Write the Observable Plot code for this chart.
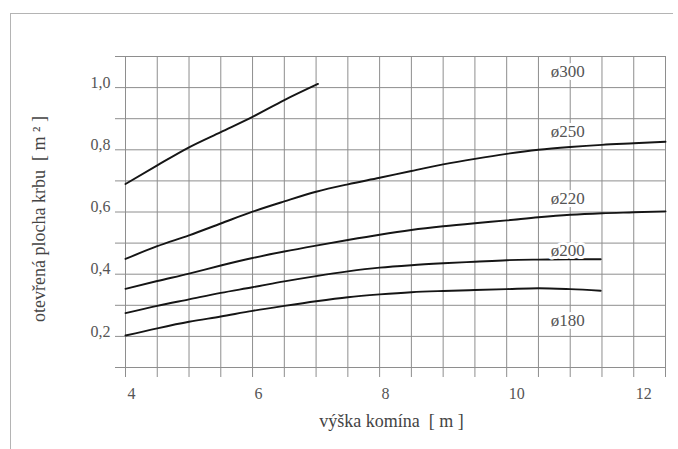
<!DOCTYPE html>
<html>
<head>
<meta charset="utf-8">
<script src="https://cdn.jsdelivr.net/npm/d3@7"></script>
<script src="https://cdn.jsdelivr.net/npm/@observablehq/plot@0.6"></script>
<style>
  html, body { margin: 0; padding: 0; background: #fff; font-family: "Liberation Serif", "Times New Roman", serif; }
  #wrap { position: relative; width: 678px; height: 449px; overflow: hidden; }
  #frame { position: absolute; left: 10px; top: 13px; width: 662px; height: 440px;
           border-top: 1px solid #b4b4b4; border-left: 1px solid #b4b4b4; pointer-events: none; }
</style>
</head>
<body>
<div id="wrap"><div id="frame"></div></div>
<script>
// ---- data ----
const seriesNames = ["ø300", "ø250", "ø220", "ø200", "ø180"];

const height300 = [4, 4.5, 5, 5.5, 6, 6.5, 7.03];
const area300   = [0.69, 0.75, 0.808, 0.857, 0.906, 0.96, 1.012];

const height250 = [4, 4.5, 5, 5.5, 6, 6.5, 7, 7.5, 8, 8.5, 9, 9.5, 10, 10.5, 11, 11.5, 12, 12.5];
const area250   = [0.449, 0.49, 0.525, 0.563, 0.601, 0.634, 0.665, 0.689, 0.71, 0.732, 0.753, 0.771, 0.787, 0.8, 0.809, 0.816, 0.821, 0.826];

const height220 = [4, 4.5, 5, 5.5, 6, 6.5, 7, 7.5, 8, 8.5, 9, 9.5, 10, 10.5, 11, 11.5, 12, 12.5];
const area220   = [0.353, 0.378, 0.402, 0.428, 0.452, 0.473, 0.492, 0.51, 0.527, 0.542, 0.554, 0.564, 0.573, 0.583, 0.591, 0.596, 0.599, 0.602];

const height200 = [4, 4.5, 5, 5.5, 6, 6.5, 7, 7.5, 8, 8.5, 9, 9.5, 10, 10.5, 11, 11.48];
const area200   = [0.275, 0.298, 0.319, 0.34, 0.358, 0.377, 0.394, 0.409, 0.421, 0.429, 0.435, 0.44, 0.445, 0.447, 0.448, 0.448];

const height180 = [4, 4.5, 5, 5.5, 6, 6.5, 7, 7.5, 8, 8.5, 9, 9.5, 10, 10.5, 11, 11.48];
const area180   = [0.203, 0.226, 0.247, 0.264, 0.282, 0.298, 0.313, 0.326, 0.335, 0.342, 0.346, 0.349, 0.352, 0.355, 0.352, 0.347];

// series label anchors (data units)
const labelHeight = [10.96, 10.96, 10.96, 10.96, 10.96];
const labelArea   = [1.051, 0.858, 0.642, 0.475, 0.25];

const xTicks = [4, 6, 8, 10, 12];
const yTicks = [0.2, 0.4, 0.6, 0.8, 1.0];
const xGrid = [4, 4.5, 5, 5.5, 6, 6.5, 7, 7.5, 8, 8.5, 9, 9.5, 10, 10.5, 11, 11.5, 12, 12.5];
const yGrid = [0.1, 0.2, 0.3, 0.4, 0.5, 0.6, 0.7, 0.8, 0.9, 1.0, 1.1];

const xTitle = "výška komína\u00a0\u00a0[ m ]";
const yTitle = "otevřená plocha krbu\u00a0\u00a0[ m ² ]";

// ---- build table ----
const raw = [
  [height300, area300], [height250, area250], [height220, area220],
  [height200, area200], [height180, area180]
];
const rows = raw.flatMap(([hs, as], k) => hs.map((h, i) => ({series: seriesNames[k], h, a: as[i]})));
const labels = seriesNames.map((s, i) => ({s, h: labelHeight[i], a: labelArea[i]}));

const serifFont = "Liberation Serif";
const textColor = "#555";
const gridColor = "#8e8e8e";

const chart = Plot.plot({
  width: 678,
  height: 449,
  marginLeft: 125,
  marginRight: 13,
  marginTop: 56,
  marginBottom: 82,
  style: {background: "transparent", overflow: "visible"},
  x: {domain: [4, 12.5], axis: null},
  y: {domain: [0.1, 1.1], axis: null},
  marks: [
    Plot.ruleX(xGrid, {x: d => d, stroke: gridColor, strokeWidth: 1, insetBottom: -10}),
    Plot.ruleY(yGrid, {y: d => d, stroke: gridColor, strokeWidth: 1, insetLeft: -10}),
    Plot.line(rows, {x: "h", y: "a", z: "series", stroke: "#151515", strokeWidth: 1.9, curve: "monotone-x"}),
    Plot.text(labels, {x: "h", y: "a", text: "s", fontSize: 17, fontFamily: serifFont, fill: textColor,
      stroke: "white", strokeWidth: 6, textAnchor: "middle", lineAnchor: "middle"}),
    Plot.text(xTicks, {x: d => d, frameAnchor: "bottom", dy: 26, dx: 2, textAnchor: "start", lineAnchor: "middle",
      text: d => String(d), fontSize: 16, fontFamily: serifFont, fill: textColor}),
    Plot.text(yTicks, {y: d => d, frameAnchor: "left", dx: -15, dy: -5, textAnchor: "end", lineAnchor: "middle",
      text: d => d.toFixed(1).replace(".", ","), fontSize: 16, fontFamily: serifFont, fill: textColor}),
    Plot.text([xTitle], {frameAnchor: "bottom", dy: 54, dx: -4, textAnchor: "middle", lineAnchor: "middle",
      text: d => d, fontSize: 18, fontFamily: serifFont, fill: "#444"}),
    Plot.text([yTitle], {frameAnchor: "left", dx: -86, dy: 7, rotate: -90, textAnchor: "middle", lineAnchor: "middle",
      text: d => d, fontSize: 18, fontFamily: serifFont, fill: "#444"})
  ]
});
chart.setAttribute("font-family", serifFont);
chart.style.position = "absolute";
chart.style.left = "0px";
chart.style.top = "0px";
document.getElementById("wrap").appendChild(chart);
</script>
</body>
</html>
